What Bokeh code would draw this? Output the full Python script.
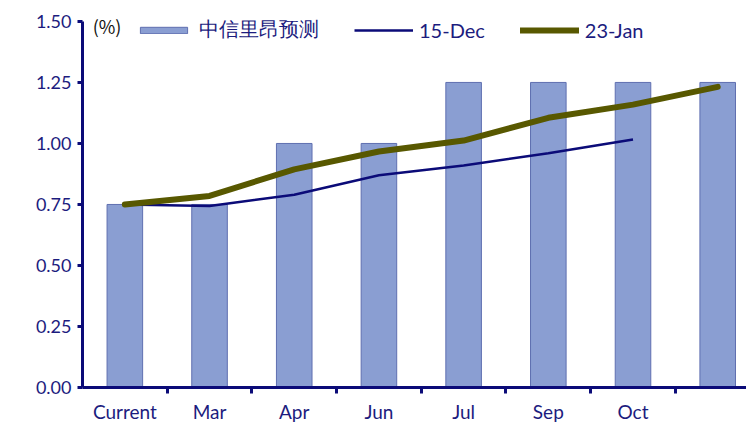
from bokeh.plotting import figure
from bokeh.models import Range1d, FixedTicker, Legend, LegendItem, Label, ColumnDataSource
from bokeh.embed import file_html
from bokeh.resources import INLINE
import numpy as np

categories = ["Current", "Mar", "Apr", "Jun", "Jul", "Sep", "Oct", ""]
forecast = [0.75, 0.75, 1.00, 1.00, 1.25, 1.25, 1.25, 1.25]
dec15 = [0.75, 0.744, 0.79, 0.87, 0.91, 0.96, 1.016]
jan23 = [0.75, 0.785, 0.894, 0.967, 1.012, 1.105, 1.159, 1.232]
y_ticks = [0.0, 0.25, 0.5, 0.75, 1.0, 1.25, 1.5]

NAVY = "#0B0B78"
TXT = "#1C1C7E"
BAR_FILL = "#8A9ED2"
BAR_LINE = "#5F6FB0"
OLIVE = "#585800"

xc = np.arange(len(categories)) + 0.5

p = figure(width=746, height=425, output_backend="svg", toolbar_location=None,
           x_range=Range1d(0, 7.84), y_range=Range1d(0, 1.553),
           min_border_left=82, min_border_right=0, min_border_top=8, min_border_bottom=35)
p.outline_line_color = None
p.xgrid.visible = False
p.ygrid.visible = False

src_bar = ColumnDataSource(dict(x=xc, top=forecast))
r_bar = p.vbar(x="x", top="top", width=0.42, source=src_bar,
               fill_color=BAR_FILL, line_color=BAR_LINE, line_width=1)
r_dec = p.line(xc[:len(dec15)], dec15, line_color=NAVY, line_width=2.5)
r_jan = p.line(xc[:len(jan23)], jan23, line_color=OLIVE, line_width=6,
               line_cap="round", line_join="round")

# x axis
xa = p.xaxis[0]
xa.ticker = FixedTicker(ticks=list(xc), minor_ticks=list(range(1, len(categories))))
xa.major_label_overrides = {float(x): c for x, c in zip(xc, categories)}
xa.major_tick_out = 0
xa.major_tick_in = 0
xa.minor_tick_out = 6
xa.minor_tick_in = 0
xa.minor_tick_line_color = NAVY
xa.minor_tick_line_width = 3
xa.axis_line_color = NAVY
xa.axis_line_width = 3
xa.major_label_text_font = "Lato"
xa.major_label_text_font_size = "19px"
xa.major_label_text_color = TXT
xa.major_label_standoff = 6
xa.axis_label_standoff = 0

# y axis
ya = p.yaxis[0]
ya.ticker = FixedTicker(ticks=y_ticks)
ya.bounds = (0, 1.5)
ya.major_label_overrides = {float(v): f"{v:.2f}" for v in y_ticks}
ya.major_tick_out = 5
ya.major_tick_in = 0
ya.minor_tick_out = 0
ya.minor_tick_in = 0
ya.major_tick_line_color = NAVY
ya.major_tick_line_width = 3
ya.axis_line_color = NAVY
ya.axis_line_width = 3
ya.major_label_text_font = "Lato"
ya.major_label_text_font_size = "18px"
ya.major_label_text_color = TXT
ya.major_label_standoff = 6

p.add_layout(Label(x=0.12, y=1.48, text="(%)", text_font="Noto Sans CJK SC",
                   text_font_size="18px", text_color="#111111", text_baseline="middle"))

legend = Legend(items=[LegendItem(label="中信里昂预测", renderers=[r_bar]),
                       LegendItem(label="15-Dec", renderers=[r_dec]),
                       LegendItem(label="23-Jan", renderers=[r_jan])],
                orientation="horizontal", location=(52, 344),
                glyph_width=59, glyph_height=8, label_standoff=6, spacing=35,
                padding=0, margin=0, border_line_color=None, background_fill_alpha=0,
                label_text_font="Lato", label_text_font_size="20px", label_text_color=TXT)
p.add_layout(legend, "center")

open("out.html", "w").write(file_html(p, INLINE))
